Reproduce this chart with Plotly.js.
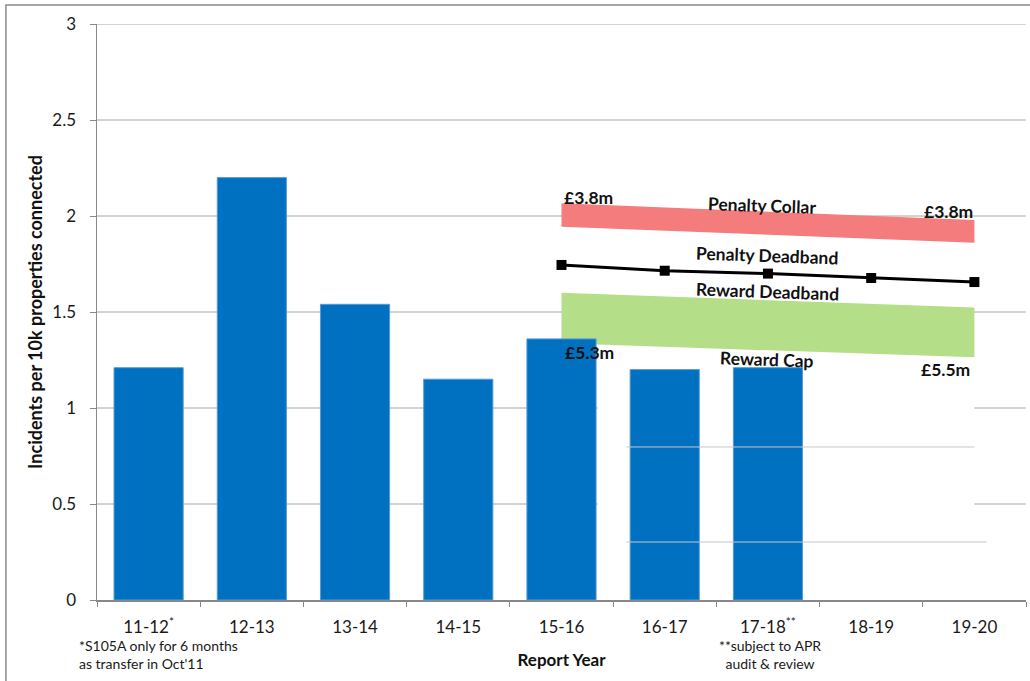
<!DOCTYPE html>
<html>
<head>
<meta charset="utf-8">
<script src="https://cdn.plot.ly/plotly-3.0.1.min.js"></script>
<style>
html,body{margin:0;padding:0;background:#fff;}
#chart{width:1030px;height:681px;}
</style>
</head>
<body>
<div id="chart"></div>
<script>
// ---- data ----
const categories = ['11-12','12-13','13-14','14-15','15-16','16-17','17-18','18-19','19-20'];
const tickLabels = ['11-12<sup>*</sup>','12-13','13-14','14-15','15-16','16-17','17-18<sup>**</sup>','18-19','19-20'];
const barYears = ['11-12','12-13','13-14','14-15','15-16','16-17','17-18'];
const incidents = [1.21, 2.20, 1.54, 1.15, 1.36, 1.20, 1.21];

const bandYears = ['15-16','19-20'];
const penaltyCollarTop = [2.066, 1.979];
const penaltyCollarBottom = [1.944, 1.861];
const rewardCapTop = [1.600, 1.524];
const rewardCapBottom = [1.337, 1.264];

const deadbandYears = ['15-16','16-17','17-18','18-19','19-20'];
const penaltyDeadband = [1.745, 1.715, 1.700, 1.677, 1.656];

const yTickValues = [0, 0.5, 1, 1.5, 2, 2.5, 3];
const fullGridValues = [1.5, 2, 2.5, 3];
const brokenGridValues = [0.5, 1];
const strayGridValues = [0.302, 0.797];

const bandLabels = ['£3.8m','Penalty Collar','£3.8m','Penalty Deadband','Reward Deadband','£5.3m','Reward Cap','£5.5m'];
const footnoteLeft = '*S105A only for 6 months<br>as transfer in Oct\'11';
const footnoteRight = '**subject to APR<br>audit & review';

// ---- styles ----
const FONT = 'Lato, "Open Sans", sans-serif';
const TXT = '#1a1a1a';
const GRID = '#a6a6a6';

function polygon(xs, top, bottom) {
  return {x: [xs[0], xs[1], xs[1], xs[0], xs[0]], y: [top[0], top[1], bottom[1], bottom[0], top[0]]};
}
const pc = polygon(bandYears, penaltyCollarTop, penaltyCollarBottom);
const rc = polygon(bandYears, rewardCapTop, rewardCapBottom);

const traces = [
  {type:'scatter', mode:'lines', x: pc.x, y: pc.y, fill:'toself', fillcolor:'#F57C7C',
   line:{width:0, color:'#F57C7C'}, hoverinfo:'skip', showlegend:false, xaxis:'x', yaxis:'y'},
  {type:'scatter', mode:'lines', x: rc.x, y: rc.y, fill:'toself', fillcolor:'#B5DE88',
   line:{width:0, color:'#B5DE88'}, hoverinfo:'skip', showlegend:false, xaxis:'x', yaxis:'y'},
  {type:'scatter', mode:'lines+markers', x: deadbandYears, y: penaltyDeadband,
   line:{color:'#000', width:3}, marker:{symbol:'square', size:10, color:'#000'},
   showlegend:false, xaxis:'x', yaxis:'y'},
  {type:'bar', x: barYears, y: incidents, marker:{color:'#0070C0', line:{color:'#5A9AD6', width:1}},
   showlegend:false, xaxis:'x2', yaxis:'y2'}
];

const shapes = [];
// outer frame
shapes.push({type:'rect', xref:'paper', yref:'paper', x0:-0.098, x1:1.2, y0:-0.5, y1:1.033,
  line:{color:'#8a8a8a', width:1.5}, fillcolor:'rgba(0,0,0,0)', layer:'below'});
fullGridValues.forEach(v => shapes.push({type:'line', xref:'x', yref:'y', x0:-0.5, x1:8.5, y0:v, y1:v,
  line:{color:GRID, width:1}, layer:'below'}));
brokenGridValues.forEach(v => {
  shapes.push({type:'line', xref:'x', yref:'y', x0:-0.5, x1:4.35, y0:v, y1:v, line:{color:GRID, width:1}, layer:'below'});
  shapes.push({type:'line', xref:'x', yref:'y', x0:8.0, x1:8.5, y0:v, y1:v, line:{color:GRID, width:1}, layer:'below'});
});
strayGridValues.forEach((v, i) => shapes.push({type:'line', xref:'x', yref:'y', x0:4.63, x1: i === 0 ? 8.12 : 8.0, y0:v, y1:v,
  line:{color:'#c8c8c8', width:1}, layer:'above'}));

const labelPos = [
  {x:4.0, y:2.094, xa:'left', a:0},
  {x:5.94, y:2.057, xa:'center', a:2},
  {x:8.005, y:2.021, xa:'right', a:0},
  {x:5.99, y:1.792, xa:'center', a:2},
  {x:6.0, y:1.606, xa:'center', a:2},
  {x:4.01, y:1.288, xa:'left', a:0},
  {x:5.99, y:1.255, xa:'center', a:2},
  {x:7.98, y:1.198, xa:'right', a:0}
];
const annotations = bandLabels.map((t, i) => ({
  text: t, xref:'x', yref:'y', x: labelPos[i].x, y: labelPos[i].y, xanchor: labelPos[i].xa, yanchor:'middle',
  textangle: labelPos[i].a, showarrow:false, font:{family:FONT, size:17.5, color:'#111', weight:'bold'}
}));
annotations.push({text: footnoteLeft, xref:'paper', yref:'paper', x:-0.0215, y:-0.095, xanchor:'left', yanchor:'middle',
  align:'left', showarrow:false, font:{family:FONT, size:14, color:TXT}});
annotations.push({text: footnoteRight, xref:'paper', yref:'paper', x:0.7245, y:-0.095, xanchor:'center', yanchor:'middle',
  align:'center', showarrow:false, font:{family:FONT, size:14, color:TXT}});

const xCommon = {type:'category', categoryorder:'array', categoryarray: categories, range:[-0.5, 8.5]};
const layout = {
  width:1030, height:681,
  margin:{l:97, r:4, t:24, b:81, pad:0},
  paper_bgcolor:'#fff', plot_bgcolor:'rgba(0,0,0,0)',
  font:{family:FONT, color:TXT},
  bargap:0.33,
  showlegend:false,
  xaxis: Object.assign({}, xCommon, {
    tickmode:'array', tickvals: categories, ticktext: tickLabels,
    tickson:'boundaries', ticks:'outside', ticklen:5, tickcolor:'#888', tickwidth:1,
    showline:true, linecolor:'#888', linewidth:1.5, showgrid:false, zeroline:false,
    ticklabelstandoff:11,
    tickfont:{family:FONT, size:17, color:TXT},
    title:{text:'Report Year', standoff:18, font:{family:FONT, size:17, color:'#111', weight:'bold'}}
  }),
  yaxis: {
    range:[0,3], tickmode:'array', tickvals: yTickValues,
    ticks:'outside', ticklen:6, tickcolor:'#888', tickwidth:1,
    showline:true, linecolor:'#888', linewidth:1.5, showgrid:false, zeroline:false,
    ticklabelstandoff:10,
    tickfont:{family:FONT, size:17, color:TXT},
    title:{text:'Incidents per 10k properties connected', standoff:5, font:{family:FONT, size:18, color:'#111', weight:'bold'}}
  },
  xaxis2: Object.assign({}, xCommon, {overlaying:'x', visible:false, showgrid:false, zeroline:false}),
  yaxis2: {range:[0,3], overlaying:'y', visible:false, showgrid:false, zeroline:false},
  shapes: shapes,
  annotations: annotations
};

Plotly.newPlot('chart', traces, layout, {displayModeBar:false, staticPlot:true});
</script>
</body>
</html>
